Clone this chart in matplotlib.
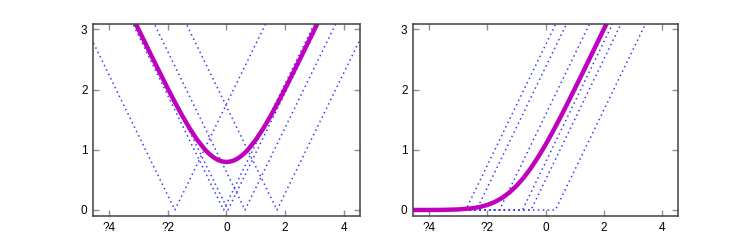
import numpy as np
import matplotlib
matplotlib.use("Agg")
import matplotlib.pyplot as plt

plt.rcParams['font.family'] = ['Liberation Sans', 'DejaVu Sans']

# left panel: smooth V curve
x_left = [-3.5, -3.25, -3.0, -2.75, -2.5, -2.25, -2.0, -1.75, -1.5, -1.25, -1.0, -0.75, -0.625,
          -0.5, -0.375, -0.25, -0.125, 0.0, 0.125, 0.25, 0.375, 0.5, 0.625, 0.75, 1.0, 1.25,
          1.5, 1.75, 2.0, 2.25, 2.5, 2.75, 3.0, 3.25, 3.5]
y_left = [3.500, 3.250, 3.001, 2.752, 2.504, 2.259, 2.017, 1.782, 1.559, 1.351, 1.167, 1.012, 0.949,
          0.896, 0.853, 0.823, 0.804, 0.798, 0.804, 0.823, 0.853, 0.896, 0.949, 1.012, 1.167, 1.351,
          1.559, 1.782, 2.017, 2.259, 2.504, 2.752, 3.001, 3.250, 3.500]
# vertices of the dotted |x - c| lines
v_centers = [-1.76, -0.10, 0.05, 0.63, 1.72]

# right panel: smooth ramp curve
x_right = [-4.6, -4.0, -3.5, -3.0, -2.5, -2.25, -2.0, -1.75, -1.5, -1.25, -1.0, -0.75, -0.5, -0.25,
           0.0, 0.25, 0.5, 0.75, 1.0, 1.25, 1.5, 1.75, 2.0, 2.25, 2.5]
y_right = [0.000, 0.000, 0.002, 0.009, 0.029, 0.051, 0.083, 0.131, 0.198, 0.286, 0.399, 0.536,
           0.698, 0.881, 1.083, 1.301, 1.529, 1.766, 2.009, 2.254, 2.502, 2.751, 3.000, 3.250, 3.500]
# kinks of the dotted max(0, x - c) lines
r_kinks = [-2.74, -2.37, -1.58, -0.79, -0.50, 0.34]

xticks = [-4, -2, 0, 2, 4]
xticklabels = ["?4", "?2", "0", "2", "4"]
yticks = [0, 1, 2, 3]

magenta = '#bf00bf'
dotblue = '#3a3aff'
edge = '#404040'

fig = plt.figure(figsize=(7.54, 2.4), dpi=100)
ax1 = fig.add_axes([93 / 754, 0.1, 267 / 754, 0.8])
ax2 = fig.add_axes([413 / 754, 0.1, 265 / 754, 0.8])

span = 10
for c in v_centers:
    ax1.plot([c - span, c, c + span], [span, 0, span], color=dotblue, lw=1.1,
             linestyle=(0, (1, 2.2)))
ax1.plot(x_left, y_left, color=magenta, lw=3.2, solid_capstyle='butt')

for c in r_kinks:
    ax2.plot([-span, c, c + span], [0, 0, span], color=dotblue, lw=1.1,
             linestyle=(0, (1, 2.2)))
ax2.plot(x_right, y_right, color=magenta, lw=3.2, solid_capstyle='butt')

for ax in (ax1, ax2):
    ax.set_xlim(-4.55, 4.55)
    ax.set_ylim(-0.1, 3.09)
    ax.set_xticks(xticks)
    ax.set_xticklabels(xticklabels)
    ax.set_yticks(yticks)
    ax.tick_params(direction='in', top=True, right=True, length=4, width=1,
                   color='#909090', labelsize=8.5, labelcolor='#000000', pad=4)
    for s in ax.spines.values():
        s.set_color(edge)
        s.set_linewidth(1.1)

fig.savefig("out.png", dpi=100)
